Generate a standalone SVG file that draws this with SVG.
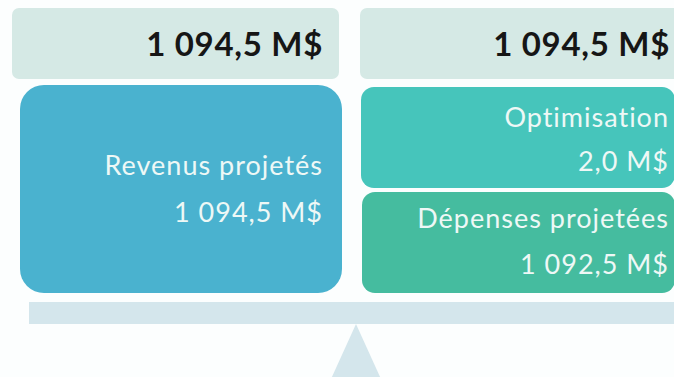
<svg xmlns="http://www.w3.org/2000/svg" width="674" height="377" viewBox="0 0 674 377">
<style>
.top{fill:#d5e9e5}
.big{font-family:Lato,"Liberation Sans",sans-serif;font-weight:bold;font-size:33px;letter-spacing:0.7px;fill:#161616;text-anchor:end}
.lbl{font-family:Lato,"Liberation Sans",sans-serif;font-size:27px;letter-spacing:1px;fill:#eef8f6;text-anchor:end}
.scale{fill:#d4e6ec}
</style>
<rect width="674" height="377" fill="#fcfefe"/>
<g id="total-left">
<rect class="top" x="12" y="8" width="327" height="71" rx="7"/>
<text class="big" x="323" y="56">1 094,5 M$</text>
</g>
<g id="total-right">
<rect class="top" x="360" y="8" width="330" height="71" rx="7"/>
<text class="big" x="670" y="56">1 094,5 M$</text>
</g>
<g id="revenus">
<rect x="20" y="85" width="322" height="208" rx="24" fill="#4ab2cf"/>
<text class="lbl" x="323" y="175">Revenus projetés</text>
<text class="lbl" x="323" y="222">1 094,5 M$</text>
</g>
<g id="optimisation">
<rect x="361" y="87" width="314" height="101" rx="13" fill="#46c5bb"/>
<text class="lbl" x="669" y="127">Optimisation</text>
<text class="lbl" x="669" y="171">2,0 M$</text>
</g>
<g id="depenses">
<rect x="362" y="192" width="313" height="101" rx="13" fill="#45bc9f"/>
<text class="lbl" x="669" y="228">Dépenses projetées</text>
<text class="lbl" x="669" y="274">1 092,5 M$</text>
</g>
<g id="balance">
<rect class="scale" x="29" y="302" width="650" height="22"/>
<polygon class="scale" points="356,324 326,390 386,390"/>
</g>
</svg>
